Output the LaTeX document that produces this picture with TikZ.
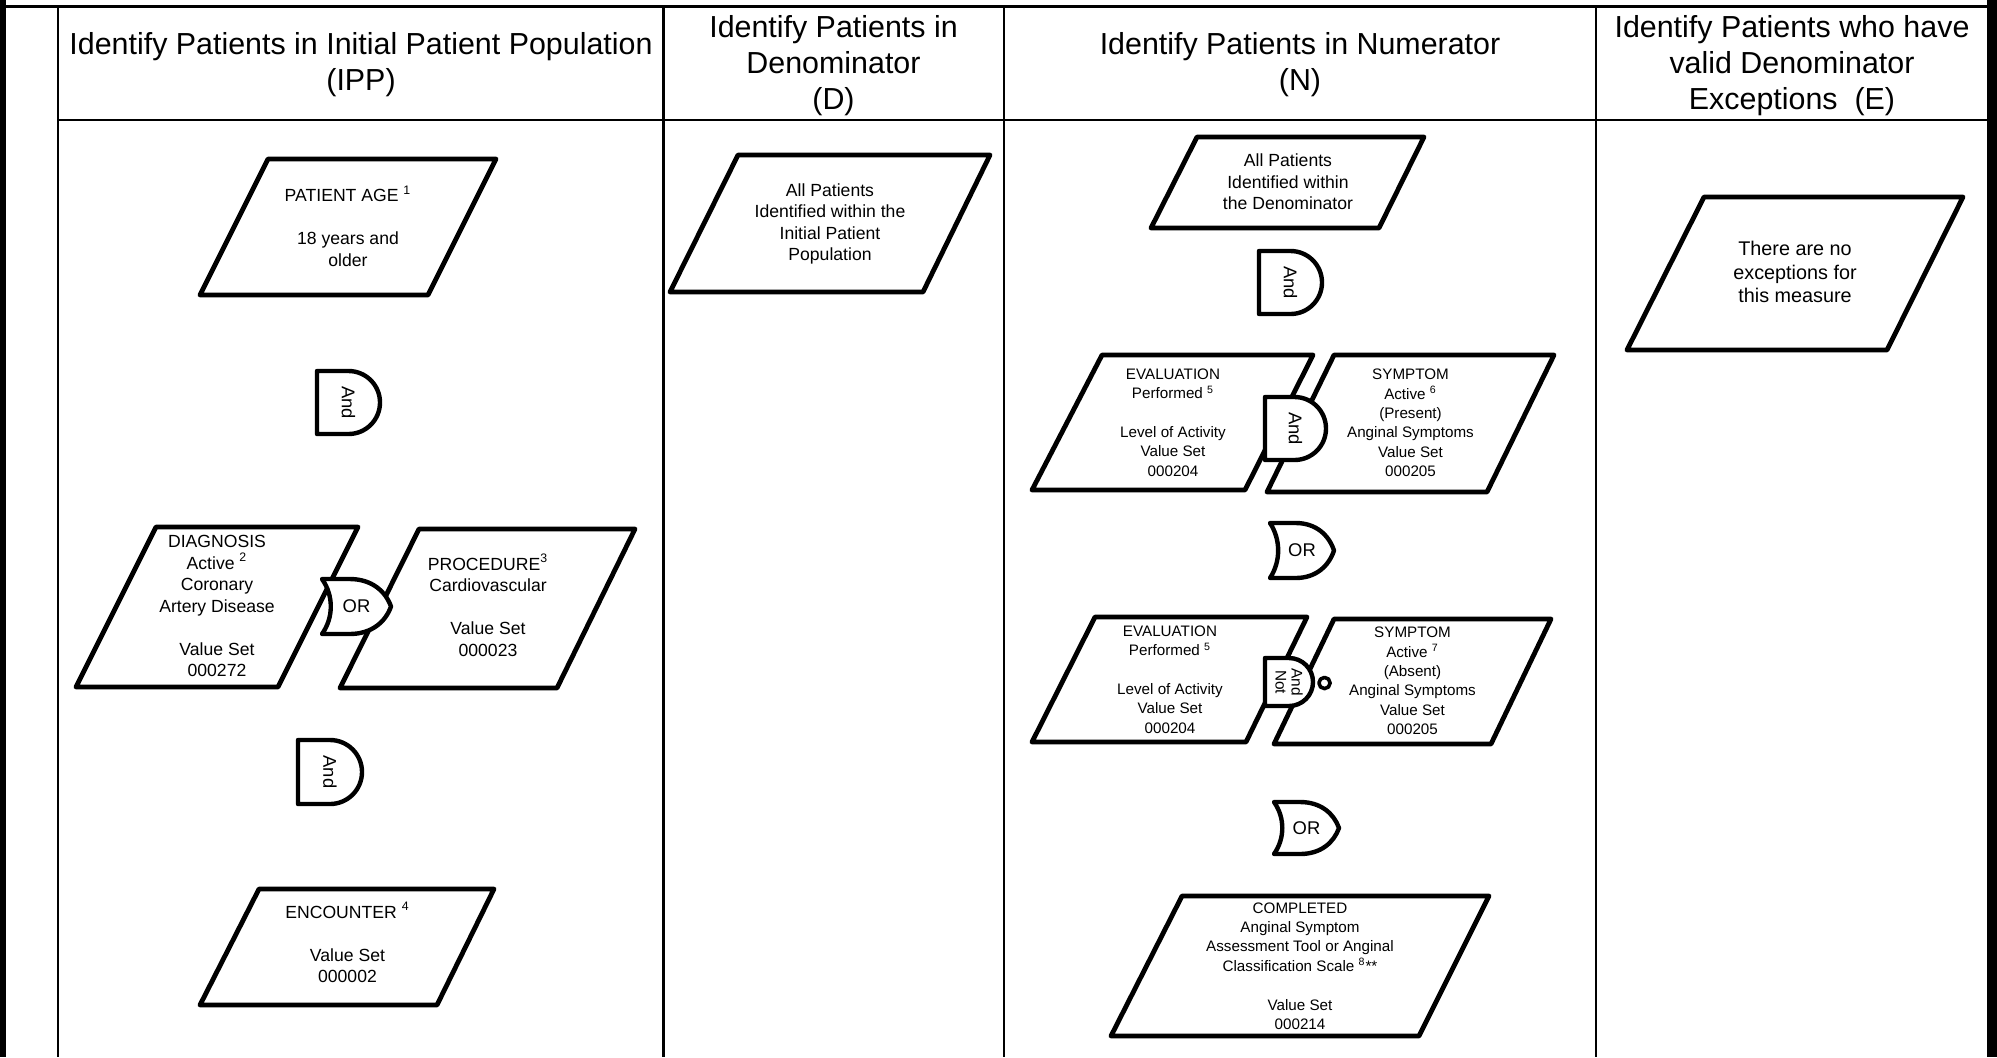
\documentclass[tikz,border=0pt]{standalone}
\usepackage{fontspec}
\setmainfont{Liberation Sans}

% D-shaped AND gate: name, left, top, width, height, label
\newcommand{\andgate}[6]{%
  \pgfmathsetmacro{\gtA}{#2+#4-#5/2}%
  \pgfmathsetmacro{\gtR}{#5/2}%
  \pgfmathsetmacro{\gtK}{0.5523*\gtR}%
  \draw[gate] (#2,#3) -- (\gtA,#3)
    .. controls ({\gtA+\gtK},#3) and ({\gtA+\gtR},{#3+\gtR-\gtK}) .. ({\gtA+\gtR},{#3+\gtR})
    .. controls ({\gtA+\gtR},{#3+\gtR+\gtK}) and ({\gtA+\gtK},{#3+#5}) .. (\gtA,{#3+#5})
    -- (#2,{#3+#5}) -- cycle;
  \node[gtext, rotate=-90] (#1) at ({#2+#4/2},{#3+#5/2}) {#6};%
}

% OR gate pointing right: name, left, top, width, height
\newcommand{\orgate}[5]{%
  \draw[gate] (#2,#3) -- ({#2+0.4*#4},#3)
    .. controls ({#2+0.72*#4},#3) and ({#2+0.92*#4},{#3+0.22*#5}) .. ({#2+#4},{#3+#5/2})
    .. controls ({#2+0.92*#4},{#3+0.78*#5}) and ({#2+0.72*#4},{#3+#5}) .. ({#2+0.4*#4},{#3+#5})
    -- (#2,{#3+#5})
    .. controls ({#2+0.17*#4},{#3+0.7*#5}) and ({#2+0.17*#4},{#3+0.3*#5}) .. (#2,#3) -- cycle;
  \node[gtext] (#1) at ({#2+#4/2},{#3+#5/2}) {OR};%
}

\begin{document}
\begin{tikzpicture}[x=0.5pt, y=-0.5pt,
  rule/.style={line width=1.2pt},
  pg/.style={line width=2.4pt, line join=round, fill=white},
  gate/.style={line width=2.2pt, line join=round, fill=white},
  hdr/.style={font=\fontsize{15.2}{18}\selectfont, align=center, inner sep=0pt},
  txt/.style={font=\fontsize{8.8}{10.75}\selectfont, align=center, inner sep=0pt},
  sml/.style={font=\fontsize{7.6}{9.7}\selectfont, align=center, inner sep=0pt},
  big/.style={font=\fontsize{9.9}{11.9}\selectfont, align=center, inner sep=0pt},
  gtext/.style={font=\fontsize{9.2}{9.2}\selectfont, inner sep=0pt}]

\useasboundingbox (0,0) rectangle (1997,1057);
\fill[white] (0,0) rectangle (1997,1057);

% table frame
\fill (0,0) rectangle (5.5,1057);
\fill (1987,0) rectangle (1997,1057);
\draw[rule] (0,6.5) -- (1997,6.5);
\draw[rule] (58,120) -- (1987,120);
\draw[rule] (58,6.5) -- (58,1057);
\draw[rule] (663.5,6.5) -- (663.5,1057);
\draw[rule] (1004,6.5) -- (1004,1057);
\draw[rule] (1596,6.5) -- (1596,1057);

% column headings
\node[hdr] (hipp) at (361,64.5) {Identify Patients in Initial Patient Population\\(IPP)};
\node[hdr] (hden) at (833.5,65.5) {Identify Patients in\\Denominator\\(D)};
\node[hdr] (hnum) at (1300,64.5) {Identify Patients in Numerator\\(N)};
\node[hdr] (hexc) at (1792,65.5) {Identify Patients who have\\valid Denominator\\Exceptions~~(E)};

% Initial Patient Population
\draw[pg] (268,159) -- (496,159) -- (428,295) -- (200,295) -- cycle;
\node[txt] (age) at (348,226) {PATIENT AGE \textsuperscript{1}\\[10.75pt]18 years and\\older};

\draw[pg] (156,527) -- (358,527) -- (278,687) -- (76,687) -- cycle;
\node[txt] (dx) at (217,606) {DIAGNOSIS\\Active \textsuperscript{2}\\Coronary\\Artery Disease\\[10.75pt]Value Set\\000272};

\draw[pg] (419,529) -- (635,529) -- (557,688) -- (340,688) -- cycle;
\node[txt] (proc) at (488,605) {PROCEDURE\textsuperscript{3}\\Cardiovascular\\[10.75pt]Value Set\\000023};

\draw[pg] (259,889) -- (494,889) -- (437,1005) -- (200,1005) -- cycle;
\node[txt] (enc) at (347.5,942.5) {ENCOUNTER \textsuperscript{4}\\[10.75pt]Value Set\\000002};

\andgate{and1}{317}{371}{63}{63}{And}
\orgate{or1}{322}{579}{69}{55}
\andgate{and2}{298}{740}{64}{64}{And}

% Denominator
\draw[pg] (738,155) -- (990,155) -- (923,292) -- (670,292) -- cycle;
\node[txt] (dall) at (830,224) {All Patients\\Identified within the\\Initial Patient\\Population};

% Numerator
\draw[pg] (1197,137) -- (1424,137) -- (1379,228) -- (1151,228) -- cycle;
\node[txt] (nall) at (1288,182) {All Patients\\Identified within\\the Denominator};

\draw[pg] (1102,355) -- (1313,355) -- (1245,490) -- (1032,490) -- cycle;
\node[sml] (ev1) at (1173,422.5) {EVALUATION\\Performed \textsuperscript{5}\\[9.7pt]Level of Activity\\Value Set\\000204};

\draw[pg] (1334,355) -- (1554,355) -- (1487,492) -- (1267,492) -- cycle;
\node[sml] (sy1) at (1410.5,423) {SYMPTOM\\Active \textsuperscript{6}\\(Present)\\Anginal Symptoms\\Value Set\\000205};

\draw[pg] (1095,617) -- (1307,617) -- (1246,742) -- (1032,742) -- cycle;
\node[sml] (ev2) at (1170,679.5) {EVALUATION\\Performed \textsuperscript{5}\\[9.7pt]Level of Activity\\Value Set\\000204};

\draw[pg] (1334,619) -- (1551,619) -- (1491,744) -- (1274,744) -- cycle;
\node[sml] (sy2) at (1412.5,681) {SYMPTOM\\Active \textsuperscript{7}\\(Absent)\\Anginal Symptoms\\Value Set\\000205};

\draw[pg] (1182,896) -- (1489,896) -- (1419,1036) -- (1111,1036) -- cycle;
\node[sml] (comp) at (1300,966) {COMPLETED\\Anginal Symptom\\Assessment Tool or Anginal\\Classification Scale \textsuperscript{8}**\\[9.7pt]Value Set\\000214};

\andgate{and3}{1259}{251}{63}{63}{And}
\andgate{and4}{1265}{397}{61}{63}{And}
\orgate{or2}{1270}{523}{64}{55}
\andgate{andnot}{1265}{658}{48}{48}{\parbox{24pt}{\centering\fontsize{7.7}{8}\selectfont And\\Not}}
\draw[gate, line width=1.8pt] (1324.5,683) circle[radius=2.8pt];
\orgate{or3}{1274}{802}{65}{52}

% Denominator Exceptions
\draw[pg] (1704,197) -- (1963,197) -- (1887,350) -- (1627,350) -- cycle;
\node[big] (exc) at (1795,272) {There are no\\exceptions for\\this measure};

\end{tikzpicture}
\end{document}
